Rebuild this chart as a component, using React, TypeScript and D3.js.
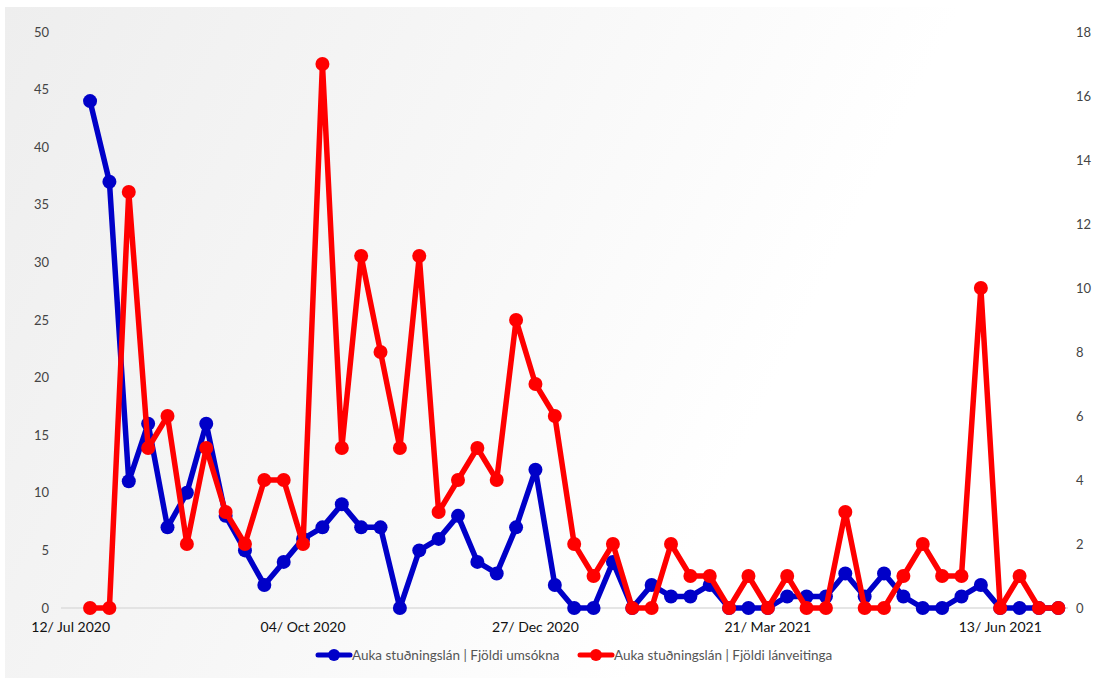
import React from "react";
import * as d3 from "d3";

const W = 1101;
const H = 678;

// Weekly categories: first week 19 Jul 2020, 51 weeks
const firstWeek = "2020-07-19";
const weekCount = 51;

const applications = [
  44, 37, 11, 16, 7, 10, 16, 8, 5, 2,
  4, 6, 7, 9, 7, 7, 0, 5, 6, 8,
  4, 3, 7, 12, 2, 0, 0, 4, 0, 2,
  1, 1, 2, 0, 0, 0, 1, 1, 1, 3,
  1, 3, 1, 0, 0, 1, 2, 0, 0, 0, 0,
];

const loans = [
  0, 0, 13, 5, 6, 2, 5, 3, 2, 4,
  4, 2, 17, 5, 11, 8, 5, 11, 3, 4,
  5, 4, 9, 7, 6, 2, 1, 2, 0, 0,
  2, 1, 1, 0, 1, 0, 1, 0, 0, 3,
  0, 0, 1, 2, 1, 1, 10, 0, 1, 0, 0,
];

const xTickDates = ["2020-07-12", "2020-10-04", "2020-12-27", "2021-03-21", "2021-06-13"];
const leftTicks = [0, 5, 10, 15, 20, 25, 30, 35, 40, 45, 50];
const rightTicks = [0, 2, 4, 6, 8, 10, 12, 14, 16, 18];

const seriesNames = [
  "Auka stuðningslán | Fjöldi umsókna",
  "Auka stuðningslán | Fjöldi lánveitinga",
];
const seriesColors = ["#0000c8", "#ff0000"];

const parse = d3.utcParse("%Y-%m-%d");
const fmt = d3.utcFormat("%d/ %b %Y");

export default function App() {
  const start = parse(firstWeek) as Date;
  const dates = d3.range(weekCount).map((i) => d3.utcDay.offset(start, 7 * i));
  const half = 3.5 * 24 * 3600 * 1000;
  const x = d3
    .scaleUtc()
    .domain([
      new Date((parse(xTickDates[0]) as Date).getTime() - half),
      new Date(dates[dates.length - 1].getTime() + half),
    ])
    .range([61, 1068]);
  const yL = d3.scaleLinear().domain([0, 50]).range([608, 32]);
  const yR = d3.scaleLinear().domain([0, 18]).range([608, 32]);

  const lineL = d3
    .line<number>()
    .x((_, i) => x(dates[i]))
    .y((d) => yL(d));
  const lineR = d3
    .line<number>()
    .x((_, i) => x(dates[i]))
    .y((d) => yR(d));

  const font = "Lato, 'Open Sans', sans-serif";

  return (
    <div style={{ position: "absolute", left: 0, top: 0 }}>
      <svg width={W} height={H} style={{ display: "block" }}>
        <defs>
          <linearGradient id="bg" x1="0" y1="0" x2="1" y2="0.3">
            <stop offset="0" stopColor="#eeeeee" />
            <stop offset="0.45" stopColor="#f7f7f7" />
            <stop offset="0.8" stopColor="#ffffff" />
            <stop offset="1" stopColor="#ffffff" />
          </linearGradient>
        </defs>
        <rect x={0} y={0} width={W} height={H} fill="#ffffff" />
        <rect x={5} y={7} width={W - 5} height={H - 7} fill="url(#bg)" />
        <line x1={61} x2={1068} y1={yL(0)} y2={yL(0)} stroke="#dcdcdc" strokeWidth={1.5} />

        {leftTicks.map((t) => (
          <text
            key={"l" + t}
            x={49}
            y={yL(t)}
            dy="0.35em"
            textAnchor="end"
            fontFamily={font}
            fontSize={13}
            fill="#444"
          >
            {t}
          </text>
        ))}
        {rightTicks.map((t) => (
          <text
            key={"r" + t}
            x={1076}
            y={yR(t)}
            dy="0.35em"
            textAnchor="start"
            fontFamily={font}
            fontSize={13}
            fill="#444"
          >
            {t}
          </text>
        ))}
        {xTickDates.map((s) => {
          const d = parse(s) as Date;
          return (
            <text
              key={s}
              x={x(d)}
              y={632}
              textAnchor="middle"
              fontFamily={font}
              fontSize={14}
              fill="#111"
            >
              {fmt(d)}
            </text>
          );
        })}

        <path d={lineL(applications) || ""} fill="none" stroke={seriesColors[0]} strokeWidth={5.5} strokeLinejoin="round" />
        {applications.map((v, i) => (
          <circle key={"a" + i} cx={x(dates[i])} cy={yL(v)} r={7} fill={seriesColors[0]} />
        ))}
        <path d={lineR(loans) || ""} fill="none" stroke={seriesColors[1]} strokeWidth={5.5} strokeLinejoin="round" />
        {loans.map((v, i) => (
          <circle key={"b" + i} cx={x(dates[i])} cy={yR(v)} r={7} fill={seriesColors[1]} />
        ))}

        {[318, 580].map((lx, k) => (
          <g key={"lg" + k}>
            <line x1={lx} x2={lx + 32} y1={655} y2={655} stroke={seriesColors[k]} strokeWidth={5} strokeLinecap="round" />
            <circle cx={lx + 16} cy={655} r={6} fill={seriesColors[k]} />
            <text
              x={lx + 34}
              y={655}
              dy="0.35em"
              fontFamily={font}
              fontSize={13.5}
              fill="#555"
            >
              {seriesNames[k]}
            </text>
          </g>
        ))}
      </svg>
    </div>
  );
}
